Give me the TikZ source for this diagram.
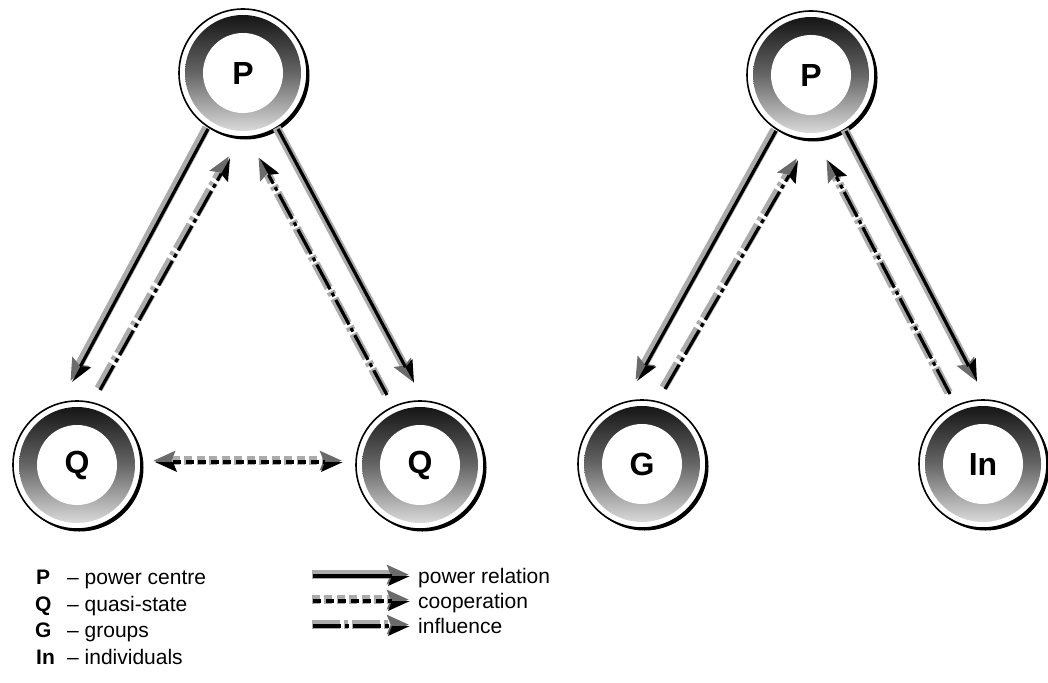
\documentclass[tikz,border=0pt]{standalone}
\usepackage{fontspec}
\setmainfont{Liberation Sans}
\usetikzlibrary{arrows.meta,shadows,calc}
\tikzset{
  hub/.style={circle, minimum size=128pt, inner sep=0pt, draw=black, line width=1.6pt, fill=white,
    drop shadow={shadow xshift=2.5pt, shadow yshift=-2.5pt, fill=black, opacity=1},
    font=\fontsize{32}{32}\selectfont\bfseries,
    path picture={
      \shade[top color=black!95, bottom color=black!10, middle color=black!60] (path picture bounding box.center) circle[radius=58pt];
      \fill[white] (path picture bounding box.center) circle[radius=40pt];
    }},
  graylayer/.style={line width=8.5pt, draw=black!33, transform canvas={shift={(-1.4pt,1.4pt)}},
    -{Stealth[length=22pt,width=20pt,inset=4pt,line width=0pt,fill=black!58]}},
  graylayerboth/.style={line width=9pt, draw=black!33, transform canvas={shift={(-1.4pt,1.4pt)}},
    {Stealth[length=22pt,width=20pt,inset=4pt,line width=0pt,fill=black!58]}-{Stealth[length=22pt,width=20pt,inset=4pt,line width=0pt,fill=black!58]}},
  blackL/.style={line width=3.2pt, draw=black,
    -{Stealth[length=22pt,width=20pt,inset=4pt,line width=0pt,harpoon]}},
  blackR/.style={line width=3.2pt, draw=black,
    -{Stealth[length=22pt,width=20pt,inset=4pt,line width=0pt,harpoon,swap]}},
  blackboth/.style={line width=4.4pt, draw=black,
    {Stealth[length=22pt,width=20pt,inset=4pt,line width=0pt,harpoon]}-{Stealth[length=22pt,width=20pt,inset=4pt,line width=0pt,harpoon,swap]}},
  coop/.style={dash pattern=on 8pt off 4.5pt},
  infl/.style={dash pattern=on 28pt off 4pt on 4pt off 4pt},
  legtext/.style={inner sep=0pt, anchor=base west, font=\fontsize{21}{25}\selectfont},
}
\begin{document}
\begin{tikzpicture}[x=1pt,y=-1pt]
\useasboundingbox (0,0) rectangle (1048,682);

% centres
\node[hub] (P1) at (243,73) {P};
\node[hub] (Q1) at (77,465) {Q};
\node[hub] (Q2) at (420,465) {Q};
\node[hub] (P2) at (811,75) {P};
\node[hub] (G) at (642,464) {G};
\node[hub] (In) at (983,464) {In};

% left triangle
\draw[graylayer] ($(P1)+(-35,56)$) -- ($(Q1)+(-5,-83)$);
\draw[blackL] ($(P1)+(-35,56)$) -- ($(Q1)+(-5,-83)$);
\draw[graylayer,infl] ($(Q1)+(23,-75)$) -- ($(P1)+(-13,85)$);
\draw[blackR,infl] ($(Q1)+(23,-75)$) -- ($(P1)+(-13,85)$);

\draw[graylayer] ($(P1)+(35,56)$) -- ($(Q2)+(-6,-82)$);
\draw[blackL] ($(P1)+(35,56)$) -- ($(Q2)+(-6,-82)$);
\draw[graylayer,infl] ($(Q2)+(-33,-70)$) -- ($(P1)+(17,86)$);
\draw[blackR,infl] ($(Q2)+(-33,-70)$) -- ($(P1)+(17,86)$);

\draw[graylayerboth,coop] ($(Q1)+(78,-3)$) -- ($(Q2)+(-77,-3)$);
\draw[blackboth,coop] ($(Q1)+(78,-3)$) -- ($(Q2)+(-77,-3)$);

% right triangle
\draw[graylayer] ($(P2)+(-35,56)$) -- ($(G)+(-5,-83)$);
\draw[blackL] ($(P2)+(-35,56)$) -- ($(G)+(-5,-83)$);
\draw[graylayer,infl] ($(G)+(23,-75)$) -- ($(P2)+(-13,85)$);
\draw[blackR,infl] ($(G)+(23,-75)$) -- ($(P2)+(-13,85)$);

\draw[graylayer] ($(P2)+(35,56)$) -- ($(In)+(-6,-82)$);
\draw[blackL] ($(P2)+(35,56)$) -- ($(In)+(-6,-82)$);
\draw[graylayer,infl] ($(In)+(-33,-70)$) -- ($(P2)+(17,86)$);
\draw[blackR,infl] ($(In)+(-33,-70)$) -- ($(P2)+(17,86)$);

% legend, left
\node[legtext] (kP) at (36,584) {\bfseries P};
\node[legtext] (tP) at (67,584) {– power centre};
\node[legtext] (kQ) at (35,611) {\bfseries Q};
\node[legtext] (tQ) at (67,611) {– quasi-state};
\node[legtext] (kG) at (35,637) {\bfseries G};
\node[legtext] (tG) at (67,637) {– groups};
\node[legtext] (kI) at (36,664) {\bfseries In};
\node[legtext] (tI) at (67,664) {– individuals};

% legend, right
\coordinate (a1) at (313,576); \coordinate (b1) at (410,576);
\coordinate (a2) at (313,601); \coordinate (b2) at (410,601);
\coordinate (a3) at (313,626); \coordinate (b3) at (410,626);
\draw[graylayer] (a1) -- (b1);
\draw[blackR] (a1) -- (b1);
\draw[graylayer,coop] (a2) -- (b2);
\draw[blackR,coop,line width=4.2pt] (a2) -- (b2);
\draw[graylayer,infl] (a3) -- (b3);
\draw[blackR,infl] (a3) -- (b3);
\node[legtext] (r1) at (418,583) {power relation};
\node[legtext] (r2) at (418,608) {cooperation};
\node[legtext] (r3) at (418,633) {influence};
\end{tikzpicture}
\end{document}
